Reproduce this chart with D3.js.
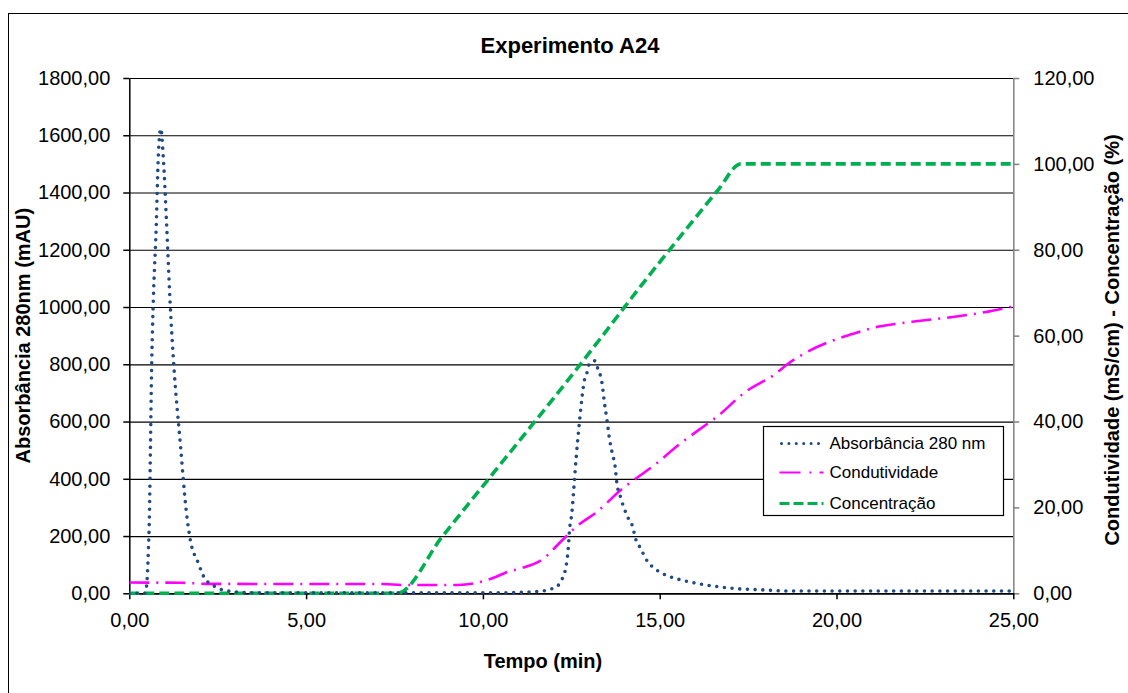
<!DOCTYPE html>
<html>
<head>
<meta charset="utf-8">
<script src="https://cdn.jsdelivr.net/npm/d3@7"></script>
<style>
  body { margin: 0; background: #fff; }
  svg { font-family: "Liberation Sans", Arial, sans-serif; }
</style>
</head>
<body>
<script>
// absorbance 280 nm (left axis, mAU)
const absTime = [0, 0.44, 0.49, 0.54, 0.57, 0.60, 0.63, 0.68, 0.76, 0.82, 0.89, 0.96, 1.06, 1.15, 1.27, 1.44, 1.62, 1.72, 1.95, 2.12, 2.45, 2.85, 3.51, 10.6, 11.07, 11.68, 11.92, 12.09, 12.2, 12.35, 12.41, 12.45, 12.52, 12.57, 12.64, 12.74, 12.81, 12.87, 12.95, 13.01, 13.16, 13.24, 13.37, 13.44, 13.51, 13.57, 13.65, 13.74, 13.79, 13.89, 13.98, 14.09, 14.22, 14.33, 14.46, 14.6, 14.79, 14.98, 15.2, 15.5, 15.8, 16.2, 16.65, 17.2, 17.9, 18.6, 25];
const absValue = [0, 0, 27, 152, 277, 527, 776, 1026, 1276, 1525, 1623, 1525, 1276, 1026, 776, 527, 277, 190, 106, 55, 22, 7, 2, 2, 3, 8, 15, 23, 41, 93, 151, 221, 285, 364, 477, 610, 692, 744, 773, 802, 812, 788, 733, 663, 605, 547, 494, 442, 384, 337, 302, 267, 238, 186, 157, 122, 93, 76, 62, 50, 41, 31, 23, 16, 12, 8, 8];

// condutividade (right axis, mS/cm)
const condTime = [0, 1.5, 2.2, 7.2, 7.7, 9.3, 9.8, 10.3, 10.7, 11.07, 11.7, 12.2, 12.67, 13.23, 13.89, 14.84, 15.59, 16.35, 16.6, 17.44, 18.24, 18.62, 19.19, 19.94, 20.42, 21.08, 21.65, 22.31, 23.34, 24.29, 25];
const condValue = [2.5, 2.45, 2.2, 2.15, 1.95, 1.95, 2.4, 3.6, 5.0, 5.8, 8.0, 12.0, 15.7, 19.0, 24.0, 29.8, 34.9, 39.5, 41.0, 47.0, 50.9, 53.4, 56.3, 59.0, 60.3, 61.9, 62.7, 63.4, 64.4, 65.6, 66.8];

// concentracao (right axis, %)
const concTime = [0, 7.57, 8.85, 10.97, 12.2, 13.33, 14.47, 15.79, 16.64, 17.3, 25];
const concValue = [0, 0, 13.2, 34.9, 47.5, 59.4, 71.6, 85.2, 93.8, 100, 100];

const xTicks = [0, 5, 10, 15, 20, 25];
const yLeftTicks = [0, 200, 400, 600, 800, 1000, 1200, 1400, 1600, 1800];
const yRightTicks = [0, 20, 40, 60, 80, 100, 120];
const seriesNames = ["Absorbância 280 nm", "Condutividade", "Concentração"];

const W = 1128, H = 693;
const plot = { left: 129.3, right: 1013.3, top: 78, bottom: 593.3 };
const fmt = d => d3.format(".2f")(d).replace(".", ",");

const svg = d3.select("body").append("svg")
  .attr("width", W).attr("height", H);

// chart frame
svg.append("rect")
  .attr("x", 8.5).attr("y", 13.5)
  .attr("width", W).attr("height", H)
  .attr("fill", "none").attr("stroke", "#000").attr("stroke-width", 1);

let x = d3.scaleLinear().domain([0, 25]).range([plot.left, plot.right]);
let yL = d3.scaleLinear().domain([0, 1800]).range([plot.bottom, plot.top]);
let yR = d3.scaleLinear().domain([0, 120]).range([plot.bottom, plot.top]);

// gridlines
svg.append("g")
  .attr("transform", "translate(" + plot.left + ",0)")
  .call(d3.axisLeft(yL).tickValues(yLeftTicks).tickSize(-(plot.right - plot.left)).tickFormat(""))
  .call(g => g.select(".domain").remove())
  .selectAll("line").attr("stroke", "#000").attr("stroke-width", 1.2);

// right axis (grey)
let rightAx = svg.append("g")
  .attr("transform", "translate(" + plot.right + ",0)")
  .call(d3.axisRight(yR).tickValues(yRightTicks).tickSize(6).tickSizeOuter(0).tickPadding(14).tickFormat(fmt));
rightAx.select(".domain").attr("stroke", "#808080").attr("stroke-width", 1.5);
rightAx.selectAll("line").attr("stroke", "#808080").attr("stroke-width", 1.5);
rightAx.selectAll("text").attr("font-size", 20).attr("fill", "#000").attr("font-family", "Liberation Sans, Arial, sans-serif");

// left axis
let leftAx = svg.append("g")
  .attr("transform", "translate(" + plot.left + ",0)")
  .call(d3.axisLeft(yL).tickValues(yLeftTicks).tickSize(6).tickSizeOuter(0).tickPadding(13).tickFormat(fmt));
leftAx.select(".domain").attr("stroke", "#000").attr("stroke-width", 1.5);
leftAx.selectAll("line").attr("stroke", "#000").attr("stroke-width", 1.5);
leftAx.selectAll("text").attr("font-size", 20).attr("fill", "#000").attr("font-family", "Liberation Sans, Arial, sans-serif");

// bottom axis
let bottomAx = svg.append("g")
  .attr("transform", "translate(0," + plot.bottom + ")")
  .call(d3.axisBottom(x).tickValues(xTicks).tickSize(6).tickSizeOuter(0).tickPadding(14).tickFormat(fmt));
bottomAx.select(".domain").attr("stroke", "#000").attr("stroke-width", 1.5);
bottomAx.selectAll("line").attr("stroke", "#000").attr("stroke-width", 1.5);
bottomAx.selectAll("text").attr("font-size", 20).attr("fill", "#000").attr("font-family", "Liberation Sans, Arial, sans-serif");

// clip
svg.append("clipPath").attr("id", "clip")
  .append("rect")
  .attr("x", plot.left).attr("y", plot.top - 4)
  .attr("width", plot.right - plot.left + 4).attr("height", plot.bottom - plot.top + 6);

let series = [
  { name: seriesNames[0], t: absTime, v: absValue, y: yL, color: "#1f4a85", width: 3.6, dash: "0 7.7", cap: "round" },
  { name: seriesNames[1], t: condTime, v: condValue, y: yR, color: "#ff00ff", width: 2.6, dash: "20 7 2 7", cap: "butt" },
  { name: seriesNames[2], t: concTime, v: concValue, y: yR, color: "#00b050", width: 3.6, dash: "10 5", cap: "butt" }
];

let lines = svg.append("g").attr("clip-path", "url(#clip)");
// draw green first, then magenta, then dotted navy on top
[series[2], series[1], series[0]].forEach(s => {
  let line = d3.line()
    .x((d, i) => x(s.t[i]))
    .y((d, i) => s.y(s.v[i]))
    .curve(d3.curveMonotoneX);
  lines.append("path")
    .attr("d", line(s.v))
    .attr("fill", "none")
    .attr("stroke", s.color)
    .attr("stroke-width", s.width)
    .attr("stroke-dasharray", s.dash)
    .attr("stroke-linecap", s.cap);
});

// title and axis labels
svg.append("text")
  .attr("x", 570).attr("y", 53)
  .attr("text-anchor", "middle")
  .attr("font-size", 22).attr("font-weight", "bold")
  .text("Experimento A24");

svg.append("text")
  .attr("x", 543).attr("y", 668)
  .attr("text-anchor", "middle")
  .attr("font-size", 20).attr("font-weight", "bold")
  .text("Tempo (min)");

svg.append("text")
  .attr("transform", "translate(30," + ((plot.top + plot.bottom) / 2) + ") rotate(-90)")
  .attr("text-anchor", "middle")
  .attr("font-size", 20).attr("font-weight", "bold")
  .text("Absorbância 280nm (mAU)");

svg.append("text")
  .attr("transform", "translate(1119,340) rotate(-90)")
  .attr("text-anchor", "middle")
  .attr("font-size", 20).attr("font-weight", "bold")
  .text("Condutividade (mS/cm) - Concentração (%)");

// legend
let legend = svg.append("g").attr("transform", "translate(763.5,426.5)");
legend.append("rect")
  .attr("width", 240).attr("height", 89)
  .attr("fill", "#fff").attr("stroke", "#000").attr("stroke-width", 1.2);

let item = legend.selectAll(".item")
  .data(series)
  .enter()
  .append("g")
  .attr("class", "item")
  .attr("transform", (d, i) => "translate(0," + [17, 46, 77][i] + ")");

item.append("line")
  .attr("x1", 16).attr("x2", 60)
  .attr("stroke", d => d.color)
  .attr("stroke-width", d => d.width * 0.85)
  .attr("stroke-dasharray", (d, i) => ["0 7.4", "21 9 2 8", "10 4"][i])
  .attr("stroke-linecap", d => d.cap)
  .attr("transform", (d, i) => i === 0 ? "translate(2,0)" : null);

item.append("text")
  .attr("x", 66).attr("dy", "0.35em")
  .attr("font-size", 17)
  .text(d => d.name);
</script>
</body>
</html>
